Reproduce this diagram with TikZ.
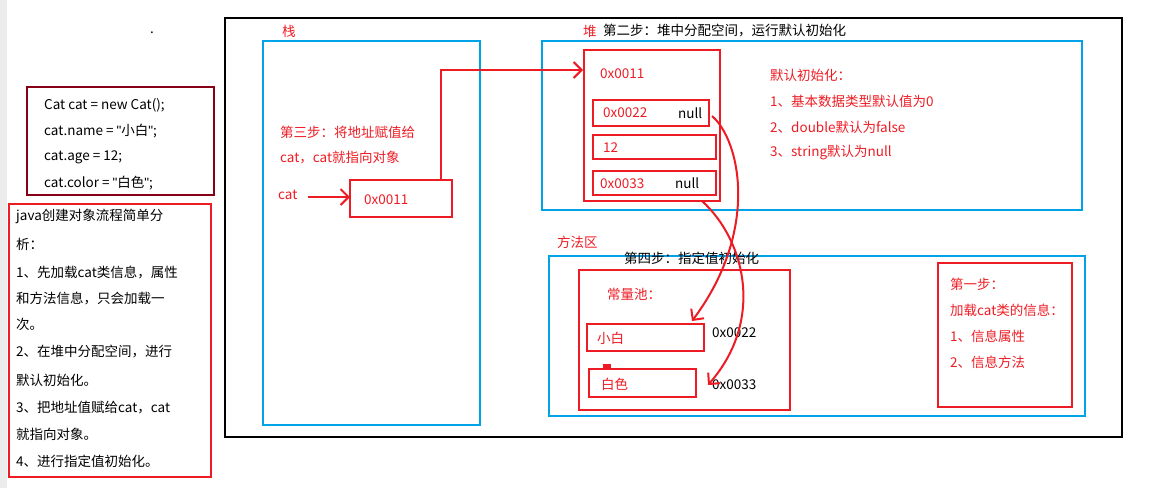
\documentclass[tikz,border=0pt]{standalone}
\usepackage{fontspec}
\setmainfont{Noto Sans CJK SC}
\newfontfamily\latq[Ligatures=ResetAll]{Liberation Sans}
\usetikzlibrary{arrows.meta}
\definecolor{rd}{HTML}{ED1C24}
\definecolor{bl}{HTML}{00A2E8}
\definecolor{dr}{HTML}{880015}
\newcommand{\qq}{{\latq\symbol{34}}}
\begin{document}
\begin{tikzpicture}[x=1pt,y=-1pt,
  rbox/.style={draw=rd,line width=2.5pt},
  bbox/.style={draw=bl,line width=2.5pt},
  rt/.style={text=rd,anchor=west,inner sep=0pt,font=\fontsize{13.5}{15}\selectfont},
  kt/.style={text=black,anchor=west,inner sep=0pt,font=\fontsize{13.5}{15}\selectfont},
  rarr/.style={draw=rd,line width=2pt,-{Straight Barb[length=8pt,width=16pt]}}]
\useasboundingbox (0,0) rectangle (1153,488);
\fill[gray!15] (0,0) rectangle (7,488);
\node[kt] (dot) at (150,33) {.};
% code box
\draw[draw=dr,line width=2.5pt] (27,87) rectangle (214,195);
\node[kt] (c1) at (44,105) {Cat cat = new Cat();};
\node[kt] (c2) at (44,131) {cat.name = \qq 小白\qq;};
\node[kt] (c3) at (44,157) {cat.age = 12;};
\node[kt] (c4) at (44,183) {cat.color = \qq 白色\qq;};
% analysis box
\draw[rbox] (9,204) rectangle (211,477);
\foreach \t/\y in {java创建对象流程简单分/216,析：/244,1、先加载cat类信息，属性/272,和方法信息，只会加载一/298,次。/324,2、在堆中分配空间，进行/352,默认初始化。/380,3、把地址值赋给cat，cat/408,就指向对象。/434,4、进行指定值初始化。/461}
  \node[kt] at (16,\y) {\t};
% big frame
\draw[line width=2.5pt] (225,18) rectangle (1122,437);
% stack
\draw[bbox] (263,41) rectangle (480,425);
\node[rt] (stk) at (282,31) {栈};
\node[rt] (s3a) at (280,132) {第三步：将地址赋值给};
\node[rt] (s3b) at (280,158) {cat，cat就指向对象};
\node[rt] (cat) at (278,195) {cat};
\draw[rbox] (350,180) rectangle (452,217);
\node[rt] (ref) at (364,200) {0x0011};
\coordinate (catend) at (350,197);
\draw[rarr] (308,197) -- (catend);
% heap
\draw[bbox] (542,41) rectangle (1082,210);
\node[rt] (heap) at (583,31) {堆};
\node[kt] (s2) at (603,31) {第二步：堆中分配空间，运行默认初始化};
\draw[rbox] (584,50) rectangle (720,201);
\coordinate (hin) at (583,70);
\draw[rarr] (441,180) -- (441,70) -- (hin);
\node[rt] at (600,74) {0x0011};
\draw[rbox] (593,100) rectangle (709,126);
\node[rt] at (603,113) {0x0022}; \node[kt] at (678,113) {null};
\draw[rbox] (593,135) rectangle (716,159);
\node[rt] at (603,148) {12};
\draw[rbox] (593,171) rectangle (716,195);
\node[rt] at (600,184) {0x0033}; \node[kt] at (675,183) {null};
\node[rt] at (770,75) {默认初始化：};
\node[rt] at (770,101) {1、基本数据类型默认值为0};
\node[rt] at (770,127) {2、double默认为false};
\node[rt] at (770,153) {3、string默认为null};
% method area
\draw[bbox] (549,256) rectangle (1085,416);
\node[rt] at (557,242) {方法区};
\node[kt] at (624,258) {第四步：指定值初始化};
\draw[rbox] (579,270) rectangle (790,410);
\node[rt] at (607,294) {常量池：};
\draw[rbox] (587,324) rectangle (704,351);
\node[rt] at (597,338) {小白};
\node[kt] at (712,333) {0x0022};
\draw[rbox] (589,369) rectangle (696,397);
\node[rt] at (601,384) {白色};
\node[kt] at (712,385) {0x0033};
\fill[rd] (603,364) rectangle (611,369);
\draw[rbox] (938,263) rectangle (1072,407);
\node[rt] at (950,284) {第一步：};
\node[rt] at (950,310) {加载cat类的信息：};
\node[rt] at (950,336) {1、信息属性};
\node[rt] at (950,362) {2、信息方法};
% curves
\draw[rarr] (712,116) .. controls (740,140) and (760,230) .. (692,321);
\draw[rarr] (702,201) .. controls (745,240) and (765,320) .. (708,385);
\end{tikzpicture}
\end{document}
